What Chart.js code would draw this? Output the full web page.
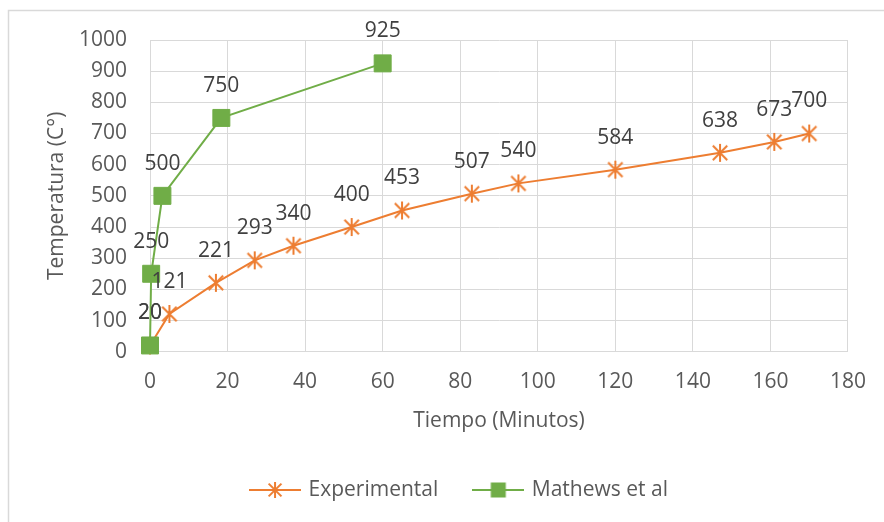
<!DOCTYPE html>
<html>
<head>
<meta charset="utf-8">
<script src="https://cdn.jsdelivr.net/npm/chart.js@4.4.0/dist/chart.umd.min.js"></script>
<style>
  html, body { margin: 0; padding: 0; background: #fff; }
  #wrap { width: 884px; height: 522px; }
</style>
</head>
<body>
<div id="wrap"><canvas id="chart" width="884" height="522"></canvas></div>
<script>
// values
const seriesNames = ['Experimental', 'Mathews et al'];
const expTime = [0, 5, 17, 27, 37, 52, 65, 83, 95, 120, 147, 161, 170];
const expTemp = [20, 121, 221, 293, 340, 400, 453, 507, 540, 584, 638, 673, 700];
const mathTime = [0, 0.3, 3.2, 18.4, 60];
const mathTemp = [20, 250, 500, 750, 925];
const xTitle = 'Tiempo (Minutos)';
const yTitle = 'Temperatura (C°)';

const ORANGE = '#ED7D31';
const GREEN = '#70AD47';
const GRID = '#D9D9D9';
const TEXT = '#595959';
const FONT = '"Open Sans", "DejaVu Sans", sans-serif';

const toPoints = (xs, ys) => xs.map((x, i) => ({ x: x, y: ys[i] }));

// asterisk marker (x plus vertical bar)
function starMarker(size, color) {
    const c = document.createElement('canvas');
    c.width = size; c.height = size;
    const g = c.getContext('2d');
    const m = size / 2, r = size / 2 - 1, d = r * 0.8;
    g.strokeStyle = color;
    g.lineWidth = 2;
    g.beginPath();
    g.moveTo(m, m - r); g.lineTo(m, m + r);
    g.moveTo(m - d, m - d); g.lineTo(m + d, m + d);
    g.moveTo(m + d, m - d); g.lineTo(m - d, m + d);
    g.stroke();
    return c;
}

// legend swatch: line with marker in the middle
function legendSwatch(color, kind) {
    const c = document.createElement('canvas');
    c.width = 52; c.height = 20;
    const g = c.getContext('2d');
    g.strokeStyle = color;
    g.lineWidth = 2;
    g.beginPath(); g.moveTo(0, 10); g.lineTo(52, 10); g.stroke();
    if (kind === 'star') {
        g.drawImage(starMarker(18, color), 17, 1);
    } else {
        g.fillStyle = color;
        g.fillRect(18.5, 2.5, 15, 15);
    }
    return c;
}

const valueLabels = {
    id: 'valueLabels',
    afterDatasetsDraw(chart) {
        const ctx = chart.ctx;
        ctx.save();
        ctx.font = '21px ' + FONT;
        ctx.fillStyle = '#404040';
        ctx.textAlign = 'center';
        ctx.textBaseline = 'middle';
        chart.data.datasets.forEach((ds, i) => {
            chart.getDatasetMeta(i).data.forEach((pt, j) => {
                ctx.fillText(String(ds.data[j].y), pt.x, pt.y - 32);
            });
        });
        ctx.restore();
    }
};

const frame = {
    id: 'frame',
    beforeDraw(chart) {
        const ctx = chart.ctx;
        ctx.save();
        ctx.fillStyle = '#fff';
        ctx.fillRect(0, 0, chart.width, chart.height);
        ctx.strokeStyle = GRID;
        ctx.lineWidth = 1.5;
        ctx.strokeRect(8.5, 10.5, 1000, 1000);
        ctx.restore();
    },
    // the legend sits centred on the outer frame, not on the plot
    afterLayout(chart) {
        chart.legend.left += 35;
        chart.legend.right += 35;
    }
};

new Chart(document.getElementById('chart'), {
    type: 'scatter',
    data: {
        datasets: [{
            label: seriesNames[0],
            data: toPoints(expTime, expTemp),
            showLine: true,
            borderColor: ORANGE,
            borderWidth: 2,
            tension: 0,
            pointStyle: starMarker(20, ORANGE),
            clip: false,
            order: 1
        }, {
            label: seriesNames[1],
            data: toPoints(mathTime, mathTemp),
            showLine: true,
            borderColor: GREEN,
            borderWidth: 2,
            tension: 0,
            pointStyle: 'rect',
            pointRadius: 12,
            pointBackgroundColor: GREEN,
            pointBorderColor: GREEN,
            pointBorderWidth: 1,
            clip: false,
            order: 0
        }]
    },
    options: {
        responsive: false,
        animation: false,
        events: [],
        layout: { padding: { top: 40, left: 0, right: 34, bottom: 11.5 } },
        scales: {
            x: {
                type: 'linear',
                min: 0,
                max: 180,
                ticks: { stepSize: 20, color: TEXT, font: { family: FONT, size: 21 }, padding: 18, callback: v => String(v) },
                grid: { color: GRID, drawTicks: false },
                border: { color: GRID },
                title: { display: true, text: xTitle, color: TEXT, font: { family: FONT, size: 21 }, padding: { top: 0, bottom: 8.9 } },
                afterFit: (s) => { s.height = 90.8; }
            },
            y: {
                min: 0,
                max: 1000,
                ticks: { stepSize: 100, color: TEXT, font: { family: FONT, size: 21 }, padding: 23, callback: v => String(v) },
                grid: { color: GRID, drawTicks: false },
                border: { color: GRID },
                title: { display: true, text: yTitle, color: TEXT, font: { family: FONT, size: 21 }, padding: { top: 44.4, bottom: 0 } },
                afterFit: (s) => { s.width = 150; }
            }
        },
        plugins: {
            tooltip: { enabled: false },
            legend: {
                position: 'bottom',
                labels: {
                    usePointStyle: true,
                    pointStyleWidth: 46,
                    padding: 37,
                    color: TEXT,
                    font: { family: FONT, size: 21 },
                    generateLabels: () => [
                        { text: seriesNames[0], pointStyle: legendSwatch(ORANGE, 'star'), fontColor: TEXT, lineWidth: 0, strokeStyle: 'transparent', fillStyle: 'transparent', datasetIndex: 0 },
                        { text: seriesNames[1], pointStyle: legendSwatch(GREEN, 'rect'), fontColor: TEXT, lineWidth: 0, strokeStyle: 'transparent', fillStyle: 'transparent', datasetIndex: 1 }
                    ]
                }
            }
        }
    },
    plugins: [frame, valueLabels]
});
</script>
</body>
</html>
